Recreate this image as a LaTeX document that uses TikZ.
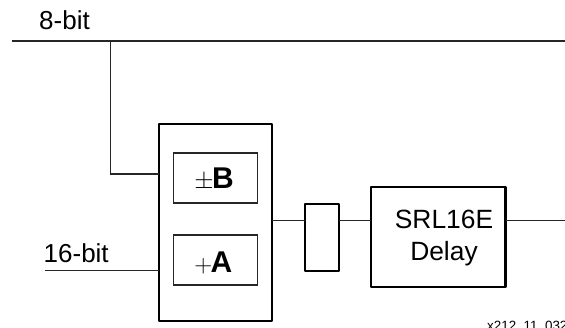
\documentclass[tikz,border=0pt]{standalone}
\usepackage{fontspec}
\setmainfont{Liberation Sans}
\tikzset{
  x=1pt,y=-1pt,
  wire/.style={draw=black!85,line width=1.2pt},
  heavy/.style={draw=black,line width=2.3pt,line join=round,inner sep=0pt,outer sep=0pt,anchor=north west},
  inner/.style={draw=black!85,line width=1.2pt,inner sep=0pt,outer sep=0pt,anchor=north west},
  lbl/.style={inner sep=0pt,font=\fontsize{26}{31}\selectfont},
  big/.style={inner sep=0pt,font=\fontsize{30}{32}\selectfont},
}
\newcommand{\symb}[1]{\hspace{-1.4pt}{\fontsize{27}{30}\selectfont$#1$}\hspace{-1.6pt}}
\begin{document}
\begin{tikzpicture}
\useasboundingbox (0,0) rectangle (565,327);
\clip (0,0) rectangle (565,327);
\node[heavy,minimum width=113pt,minimum height=197pt] (main) at (159,124) {};
\node[inner,minimum width=84pt,minimum height=50pt] (bbox) at (173.5,153) {};
\node[inner,minimum width=84pt,minimum height=50pt] (abox) at (173.5,235) {};
\node[big,anchor=base west] (btext) at (195.5,188) {\symb{\pm}\textbf{B}};
\node[big,anchor=base west] (atext) at (195.5,272) {\symb{+}\textbf{A}};
\node[heavy,minimum width=34pt,minimum height=67pt] (reg) at (305,204) {};
\node[heavy,minimum width=134.5pt,minimum height=100pt] (srl) at (371,187) {};
\node[lbl,font=\fontsize{26.4}{31}\selectfont,anchor=base] (srltext) at (444,228) {SRL16E};
\node[lbl,font=\fontsize{26.4}{31}\selectfont,anchor=base] (delaytext) at (444,260.5) {Delay};
\node[lbl,anchor=base west] (eight) at (39,29.5) {8-bit};
\node[lbl,anchor=base west] (sixteen) at (43.5,262) {16-bit};
\node[inner sep=0pt,anchor=base west,font=\fontsize{13.4}{15}\selectfont] (ref) at (487,330.5) {x212\_11\_032};
\coordinate (topl) at (12,41);
\coordinate (topr) at (565,41);
\coordinate (branch) at (110.5,41);
\coordinate (binp) at (159,174);
\coordinate (ainl) at (45,270.5);
\coordinate (ainr) at (159,270.5);
\coordinate (mo) at (272,220.5);
\coordinate (ri) at (305,220.5);
\coordinate (ro) at (339,220.5);
\coordinate (si) at (371,220.5);
\coordinate (so) at (505.5,220.5);
\coordinate (out) at (565,220.5);
\draw[wire] (topl) -- (topr);
\draw[wire] (branch) |- (binp);
\draw[wire] (ainl) -- (ainr);
\draw[wire] (mo) -- (ri);
\draw[wire] (ro) -- (si);
\draw[wire] (so) -- (out);
\end{tikzpicture}
\end{document}
